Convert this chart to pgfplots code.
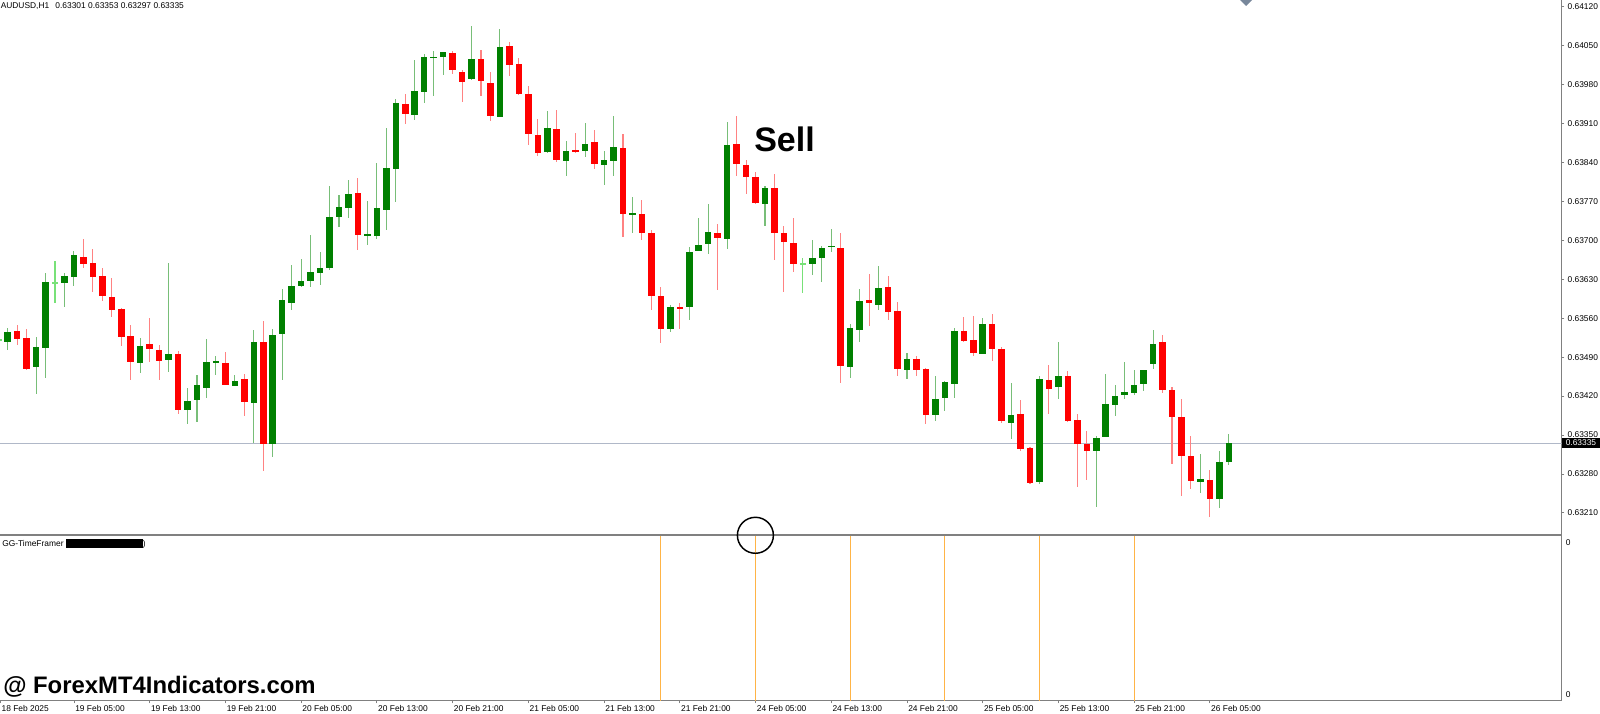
\documentclass[border=0pt]{standalone}
\usepackage{pgfplots}
\pgfplotsset{compat=1.18}
\usepackage{pgfplotstable}
\usepackage{fontspec}
\setmainfont{Liberation Sans}
\newcommand\tfont{\fontsize{6.3pt}{7.5pt}\selectfont}

\definecolor{bullbody}{RGB}{0,128,0}
\definecolor{bullwick}{RGB}{120,190,120}
\definecolor{bearbody}{RGB}{255,0,0}
\definecolor{bearwick}{RGB}{255,130,130}
\definecolor{dojicol}{RGB}{120,225,120}
\definecolor{priceline}{RGB}{176,184,200}
\definecolor{framegray}{RGB}{128,128,128}
\definecolor{tfline}{RGB}{255,180,70}
\definecolor{markercol}{RGB}{120,135,155}

% AUDUSD H1 candles: bar index, open, high, low, close
\pgfplotstableread{
i o h l c
0 0.63518 0.63543 0.63504 0.63536
3 0.63472 0.63526 0.63424 0.63509
4 0.63507 0.63642 0.63454 0.63626
6 0.63623 0.63640 0.63579 0.63636
7 0.63635 0.63680 0.63618 0.63674
14 0.63480 0.63525 0.63462 0.63511
17 0.63485 0.63660 0.63464 0.63497
19 0.63395 0.63435 0.63369 0.63412
20 0.63413 0.63459 0.63375 0.63440
21 0.63436 0.63523 0.63417 0.63483
22 0.63482 0.63492 0.63459 0.63483
24 0.63439 0.63457 0.63439 0.63448
26 0.63409 0.63540 0.63336 0.63519
28 0.63336 0.63541 0.63311 0.63531
29 0.63532 0.63614 0.63451 0.63592
30 0.63589 0.63657 0.63575 0.63620
31 0.63618 0.63668 0.63617 0.63628
32 0.63627 0.63710 0.63617 0.63644
33 0.63642 0.63679 0.63619 0.63651
34 0.63652 0.63798 0.63647 0.63743
35 0.63743 0.63783 0.63725 0.63761
36 0.63759 0.63810 0.63741 0.63785
38 0.63710 0.63771 0.63693 0.63711
39 0.63709 0.63840 0.63704 0.63758
40 0.63755 0.63904 0.63720 0.63831
41 0.63829 0.63955 0.63770 0.63947
43 0.63925 0.64024 0.63915 0.63969
44 0.63968 0.64036 0.63948 0.64030
45 0.64029 0.64042 0.63960 0.64031
46 0.64030 0.64040 0.63998 0.64038
49 0.63991 0.64085 0.63989 0.64027
52 0.63923 0.64081 0.63922 0.64048
57 0.63859 0.63933 0.63857 0.63901
59 0.63844 0.63880 0.63816 0.63862
61 0.63862 0.63910 0.63850 0.63874
63 0.63837 0.63862 0.63800 0.63845
64 0.63843 0.63923 0.63815 0.63868
66 0.63747 0.63778 0.63714 0.63748
70 0.63541 0.63584 0.63535 0.63581
72 0.63582 0.63690 0.63559 0.63681
73 0.63681 0.63741 0.63681 0.63692
74 0.63693 0.63766 0.63676 0.63715
76 0.63702 0.63913 0.63684 0.63871
80 0.63766 0.63799 0.63726 0.63795
85 0.63659 0.63701 0.63639 0.63669
86 0.63669 0.63692 0.63627 0.63687
87 0.63689 0.63720 0.63679 0.63691
89 0.63474 0.63551 0.63453 0.63543
90 0.63541 0.63614 0.63518 0.63592
92 0.63584 0.63653 0.63575 0.63615
95 0.63467 0.63498 0.63451 0.63487
98 0.63387 0.63456 0.63376 0.63415
99 0.63417 0.63447 0.63394 0.63446
100 0.63444 0.63544 0.63418 0.63539
103 0.63496 0.63562 0.63496 0.63550
106 0.63373 0.63445 0.63343 0.63387
109 0.63265 0.63457 0.63262 0.63451
111 0.63436 0.63518 0.63414 0.63457
115 0.63322 0.63349 0.63221 0.63346
116 0.63347 0.63461 0.63347 0.63407
117 0.63406 0.63440 0.63386 0.63421
118 0.63422 0.63481 0.63415 0.63428
119 0.63426 0.63468 0.63423 0.63440
120 0.63442 0.63468 0.63430 0.63468
121 0.63479 0.63539 0.63469 0.63514
126 0.63267 0.63316 0.63247 0.63271
128 0.63235 0.63323 0.63219 0.63301
129 0.63301 0.63353 0.63297 0.63335
}\bull

\pgfplotstableread{
i o h l c
1 0.63538 0.63548 0.63513 0.63523
2 0.63525 0.63540 0.63466 0.63470
8 0.63672 0.63702 0.63651 0.63659
9 0.63660 0.63686 0.63608 0.63635
10 0.63636 0.63650 0.63591 0.63600
11 0.63599 0.63633 0.63564 0.63575
12 0.63577 0.63578 0.63510 0.63527
13 0.63529 0.63547 0.63449 0.63482
15 0.63514 0.63561 0.63481 0.63504
16 0.63503 0.63511 0.63449 0.63484
18 0.63496 0.63502 0.63389 0.63395
23 0.63481 0.63499 0.63439 0.63441
25 0.63450 0.63460 0.63385 0.63409
27 0.63518 0.63556 0.63287 0.63335
37 0.63785 0.63812 0.63683 0.63709
42 0.63946 0.63964 0.63910 0.63927
47 0.64037 0.64042 0.64000 0.64006
48 0.64004 0.64007 0.63950 0.63986
50 0.64027 0.64043 0.63961 0.63986
51 0.63984 0.64003 0.63915 0.63924
53 0.64049 0.64056 0.63996 0.64015
54 0.64017 0.64030 0.63963 0.63964
55 0.63964 0.63977 0.63871 0.63891
56 0.63889 0.63919 0.63853 0.63858
58 0.63900 0.63934 0.63841 0.63844
60 0.63863 0.63894 0.63858 0.63862
62 0.63876 0.63900 0.63830 0.63838
65 0.63867 0.63892 0.63707 0.63748
67 0.63748 0.63774 0.63702 0.63714
68 0.63714 0.63719 0.63575 0.63600
69 0.63599 0.63616 0.63515 0.63541
71 0.63580 0.63589 0.63541 0.63579
75 0.63713 0.63729 0.63612 0.63704
77 0.63873 0.63924 0.63816 0.63837
78 0.63835 0.63844 0.63784 0.63814
79 0.63813 0.63822 0.63766 0.63767
81 0.63795 0.63820 0.63665 0.63714
82 0.63715 0.63726 0.63608 0.63698
83 0.63696 0.63741 0.63644 0.63659
88 0.63687 0.63714 0.63444 0.63474
91 0.63593 0.63641 0.63547 0.63586
93 0.63616 0.63636 0.63557 0.63571
94 0.63573 0.63590 0.63457 0.63469
96 0.63488 0.63492 0.63457 0.63467
97 0.63470 0.63471 0.63370 0.63387
101 0.63538 0.63564 0.63519 0.63520
102 0.63522 0.63566 0.63493 0.63498
104 0.63550 0.63568 0.63484 0.63505
105 0.63505 0.63510 0.63372 0.63375
107 0.63388 0.63413 0.63322 0.63325
108 0.63327 0.63330 0.63262 0.63264
110 0.63450 0.63477 0.63389 0.63435
112 0.63457 0.63465 0.63373 0.63376
113 0.63379 0.63389 0.63258 0.63336
114 0.63335 0.63357 0.63270 0.63322
122 0.63517 0.63532 0.63427 0.63431
123 0.63431 0.63438 0.63298 0.63382
124 0.63383 0.63415 0.63240 0.63312
125 0.63313 0.63348 0.63253 0.63269
127 0.63271 0.63287 0.63203 0.63236
}\bear

\pgfplotstableread{
i o h l c
-1 0.63521 0.63522 0.63520 0.63521
5 0.63624 0.63663 0.63588 0.63624
84 0.63657 0.63670 0.63606 0.63657
}\doji

\pgfplotsset{
  ebar/.style 2 args={draw=none, mark=none, forget plot,
    error bars/y dir=both, error bars/y explicit, error bars/error mark=none,
    error bars/error bar style={draw=#1, line width=#2, line cap=butt}},
}
\newcommand\candlewick[2]{\addplot[ebar={#2}{0.8pt}] table[x=i,
  y expr={(\thisrow{h}+\thisrow{l})/2},
  y error expr={(\thisrow{h}-\thisrow{l})/2}] {#1};}
\newcommand\candlebody[2]{\addplot[ebar={#2}{4.9pt}] table[x=i,
  y expr={(\thisrow{o}+\thisrow{c})/2},
  y error expr={max(abs(\thisrow{c}-\thisrow{o})/2,0.000014)}] {#1};}

\begin{document}
\begin{tikzpicture}
\useasboundingbox (0pt,0pt) rectangle (1200pt,535.5pt);
\clip (0pt,0pt) rectangle (1200pt,535.5pt);

% ---------- main price panel ----------
\begin{axis}[
  at={(0pt,535.5pt)}, anchor=north west,
  scale only axis, width=1171.3pt, height=401.5pt,
  xmin=-0.8135, xmax=164.17, ymin=0.631696, ymax=0.64132,
  axis x line=none, axis y line*=right,
  axis line style={framegray, line width=1.1pt},
  ytick={0.63210,0.63280,0.63350,0.63420,0.63490,0.63560,0.63630,0.63700,0.63770,0.63840,0.63910,0.63980,0.64050,0.64120},
  scaled y ticks=false,
  yticklabel={\pgfmathprintnumber[fixed,fixed zerofill,precision=5,assume math mode=true]{\tick}},
  yticklabel style={font=\tfont, anchor=west, inner sep=0pt, xshift=2.2pt},
  ytick align=outside, major tick length=2pt,
  tick style={framegray, line width=0.6pt},
]
\addplot[priceline, line width=0.75pt, forget plot] coordinates {(-1,0.63335) (165,0.63335)};
\candlewick{\bull}{bullwick}
\candlewick{\bear}{bearwick}
\candlewick{\doji}{dojicol}
\candlebody{\bull}{bullbody}
\candlebody{\bear}{bearbody}
\candlebody{\doji}{dojicol}
\end{axis}

% ---------- indicator panel ----------
\begin{axis}[
  at={(0pt,9.975pt)}, anchor=south west,
  scale only axis, width=1171.3pt, height=124.05pt,
  xmin=-0.8135, xmax=164.17, ymin=0, ymax=1,
  axis x line*=bottom, axis y line*=right,
  axis line style={framegray, line width=1.1pt},
  ytick=\empty,
  xtick={-0.78,7,15,23,31,39,47,55,63,71,79,87,95,103,111,119,127},
  xticklabels={18 Feb 2025,19 Feb 05:00,19 Feb 13:00,19 Feb 21:00,20 Feb 05:00,20 Feb 13:00,20 Feb 21:00,21 Feb 05:00,21 Feb 13:00,21 Feb 21:00,24 Feb 05:00,24 Feb 13:00,24 Feb 21:00,25 Feb 05:00,25 Feb 13:00,25 Feb 21:00,26 Feb 05:00},
  xticklabel style={font=\tfont, anchor=north west, inner sep=0pt, xshift=0.8pt, yshift=-1.2pt},
  xtick align=outside, major tick length=2pt,
  tick style={framegray, line width=0.6pt},
]
\addplot[ycomb, tfline, line width=0.8pt, mark=none] coordinates {(69,1) (79,1) (89,1) (99,1) (109,1) (119,1)};
\end{axis}

% ---------- annotations (pixel coordinates, origin top-left) ----------
\begin{scope}[shift={(0pt,535.5pt)}, x=0.75pt, y=-0.75pt]
  \draw[framegray, line width=1.5pt] (0,535.3) -- (1561.7,535.3);
  \node[anchor=base west, inner sep=0pt, font=\tfont] at (0.5,9.0)
    {AUDUSD,H1\hspace{4.6pt}0.63301 0.63353 0.63297 0.63335};
  \fill[black] (1562.4,437.6) rectangle (1600,447.6);
  \node[anchor=base west, inner sep=0pt, font=\tfont, text=white] at (1565.5,445.6) {0.63335};
  \node[anchor=base west, inner sep=0pt, font=\tfont] at (1565.5,545.7) {0};
  \node[anchor=base west, inner sep=0pt, font=\tfont] at (1565.5,697.7) {0};
  \node[anchor=base west, inner sep=0pt, font=\tfont] at (2,546.5)
    {GG-TimeFramer\hspace{2pt}\rule[-1.1pt]{57.5pt}{6.9pt})};
  \node[anchor=base west, inner sep=0pt, font=\fontsize{25.5pt}{28pt}\selectfont\bfseries] at (754,151.7) {Sell};
  \node[anchor=base west, inner sep=0pt, font=\fontsize{17.9pt}{20pt}\selectfont\bfseries] at (3,694) {@ ForexMT4Indicators.com};
  \draw[black, line width=1.1pt] (755.4,535.3) circle[radius=18];
  \fill[markercol] (1240,0) -- (1252,0) -- (1246,6) -- cycle;
\end{scope}
\end{tikzpicture}
\end{document}
